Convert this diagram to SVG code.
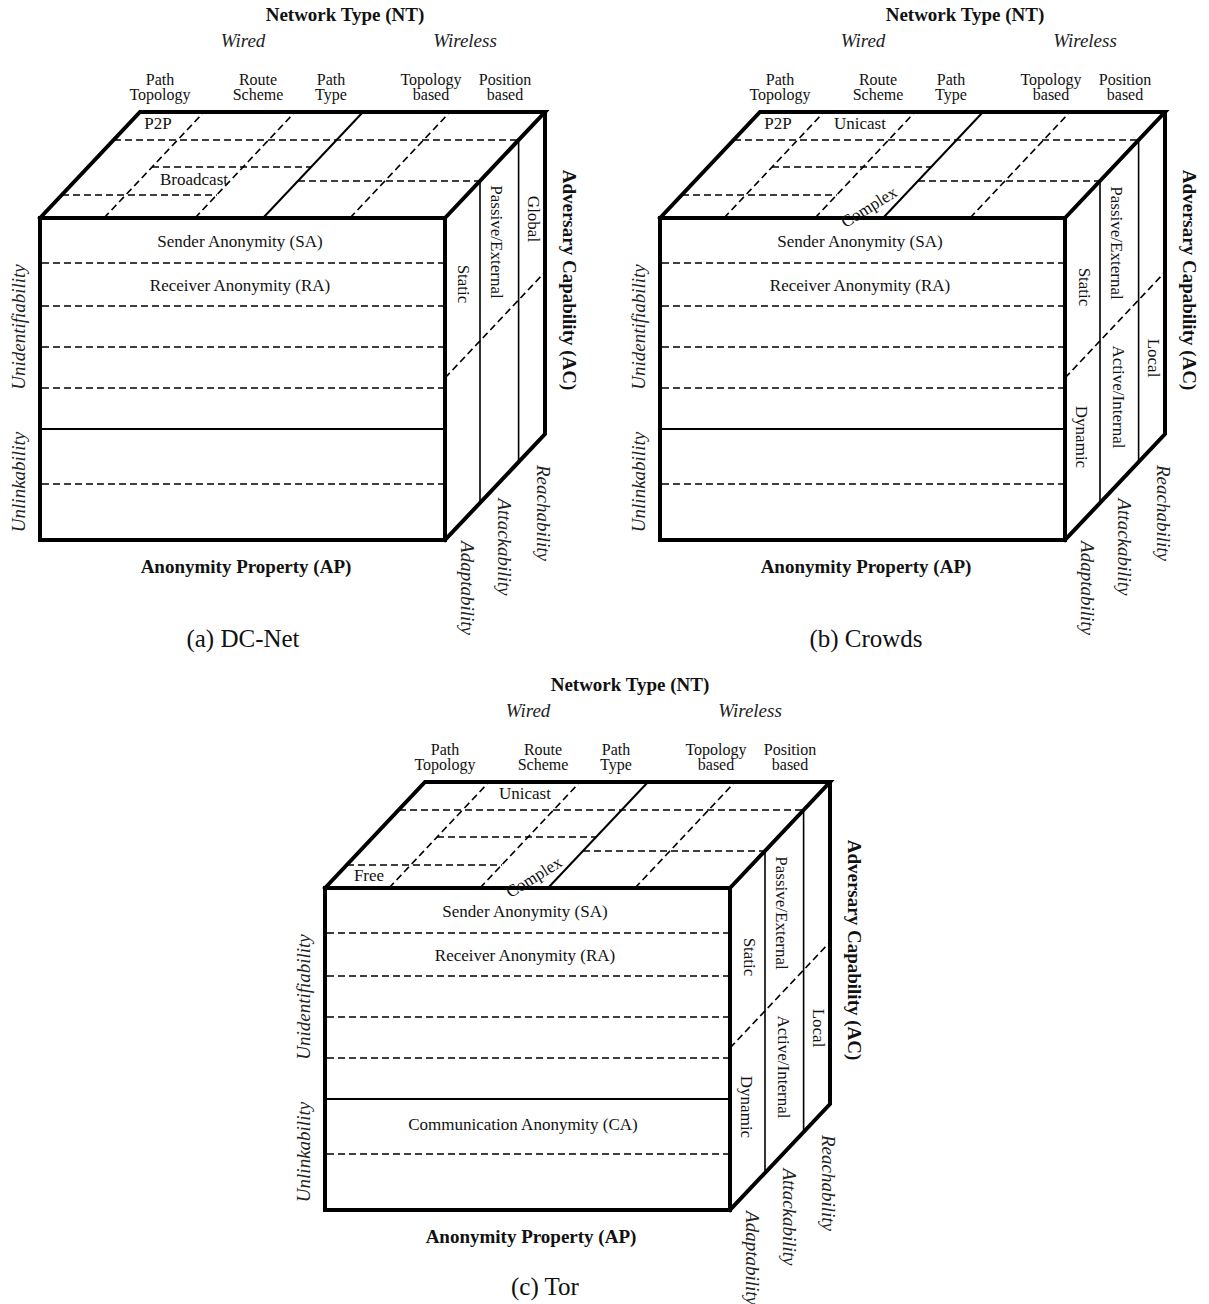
<svg xmlns="http://www.w3.org/2000/svg" width="1209" height="1304" viewBox="0 0 1209 1304">
<defs>
<style>
.thick{stroke:#000;stroke-width:4;fill:none;stroke-linejoin:miter;stroke-linecap:square}
.solid{stroke:#000;stroke-width:2;fill:none}
.sep{stroke:#000;stroke-width:1.6;fill:none}
.dash{stroke:#000;stroke-width:1.6;stroke-dasharray:7 4;fill:none}
text{font-family:"Liberation Serif","Times New Roman",serif;fill:#111}
.n{font-size:17px}
.h{font-size:16px;text-anchor:middle}
.c{text-anchor:middle}
.r{text-anchor:middle;dominant-baseline:central}
.b{font-size:19px;font-weight:bold}
.i{font-size:19px;font-style:italic;fill:#222}
.cap{font-size:25px;text-anchor:middle}
</style>
</defs>
<rect width="1209" height="1304" fill="#fff"/>

<!-- Cube (a) DC-Net -->
<g id="cube-a">
  <g class="edges">
    <rect x="40" y="218" width="405" height="322" class="thick"/>
    <path class="thick" d="M40,218 L140,112 L545,112 L445,218 M545,112 L545,434 L445,540"/>
  </g>
  <g class="front">
    <path class="dash" d="M42,263H443M42,306H443M42,347H443M42,388H443M42,484H443"/>
    <path class="solid" d="M42,429H443"/>
  </g>
  <g class="top">
    <path class="dash" d="M104,218L204,112M195,218L295,112M350,218L450,112"/>
    <path class="solid" d="M263,218L363,112"/>
    <path class="dash" d="M114,140H518M152,167H311M298,181H480M62,195H217"/>
  </g>
  <g class="right">
    <path class="sep" d="M518.6,140V462M480,181V503"/>
    <path class="dash" d="M445,378L545,272"/>
  </g>
  <text class="b c" x="345" y="21">Network Type (NT)</text>
  <text class="i c" x="243" y="47">Wired</text>
  <text class="i c" x="465" y="47">Wireless</text>
  <text class="h" x="160" y="85">Path</text><text class="h" x="160" y="100">Topology</text>
  <text class="h" x="258" y="85">Route</text><text class="h" x="258" y="100">Scheme</text>
  <text class="h" x="331" y="85">Path</text><text class="h" x="331" y="100">Type</text>
  <text class="h" x="431" y="85">Topology</text><text class="h" x="431" y="100">based</text>
  <text class="h" x="505" y="85">Position</text><text class="h" x="505" y="100">based</text>
  <text class="n c" x="158" y="129">P2P</text>
  <text class="n c" x="194" y="185">Broadcast</text>
  <text class="n c" x="240" y="247">Sender Anonymity (SA)</text>
  <text class="n c" x="240" y="291">Receiver Anonymity (RA)</text>
  <text class="n r" transform="translate(533,219) rotate(90)">Global</text>
  <text class="n r" transform="translate(496,242) rotate(90)">Passive/External</text>
  <text class="n r" transform="translate(463,284) rotate(90)">Static</text>
  <text class="b r" transform="translate(569,280) rotate(90)">Adversary Capability (AC)</text>
  <text class="i r" transform="translate(543,513) rotate(90)">Reachability</text>
  <text class="i r" transform="translate(504,547) rotate(90)">Attackability</text>
  <text class="i r" transform="translate(467,588) rotate(90)">Adaptability</text>
  <text class="i r" transform="translate(18,327) rotate(-90)">Unidentifiability</text>
  <text class="i r" transform="translate(18,482) rotate(-90)">Unlinkability</text>
  <text class="b c" x="246" y="573">Anonymity Property (AP)</text>
  <text class="cap" x="243" y="647">(a) DC-Net</text>
</g>

<!-- Cube (b) Crowds -->
<g id="cube-b" transform="translate(620,0)">
  <g class="edges">
    <rect x="40" y="218" width="405" height="322" class="thick"/>
    <path class="thick" d="M40,218 L140,112 L545,112 L445,218 M545,112 L545,434 L445,540"/>
  </g>
  <g class="front">
    <path class="dash" d="M42,263H443M42,306H443M42,347H443M42,388H443M42,484H443"/>
    <path class="solid" d="M42,429H443"/>
  </g>
  <g class="top">
    <path class="dash" d="M104,218L204,112M195,218L295,112M350,218L450,112"/>
    <path class="solid" d="M263,218L363,112"/>
    <path class="dash" d="M114,140H518M152,167H311M298,181H480M62,195H217"/>
  </g>
  <g class="right">
    <path class="sep" d="M518.6,140V462M480,181V503"/>
    <path class="dash" d="M445,378L545,272"/>
  </g>
  <text class="b c" x="345" y="21">Network Type (NT)</text>
  <text class="i c" x="243" y="47">Wired</text>
  <text class="i c" x="465" y="47">Wireless</text>
  <text class="h" x="160" y="85">Path</text><text class="h" x="160" y="100">Topology</text>
  <text class="h" x="258" y="85">Route</text><text class="h" x="258" y="100">Scheme</text>
  <text class="h" x="331" y="85">Path</text><text class="h" x="331" y="100">Type</text>
  <text class="h" x="431" y="85">Topology</text><text class="h" x="431" y="100">based</text>
  <text class="h" x="505" y="85">Position</text><text class="h" x="505" y="100">based</text>
  <text class="n c" x="158" y="129">P2P</text>
  <text class="n c" x="240" y="129">Unicast</text>
  <text class="n r" transform="translate(249,207) rotate(-32)">Complex</text>
  <text class="n c" x="240" y="247">Sender Anonymity (SA)</text>
  <text class="n c" x="240" y="291">Receiver Anonymity (RA)</text>
  <text class="n r" transform="translate(533,358) rotate(90)">Local</text>
  <text class="n r" transform="translate(496,243) rotate(90)">Passive/External</text>
  <text class="n r" transform="translate(498,397) rotate(90)">Active/Internal</text>
  <text class="n r" transform="translate(464,287) rotate(90)">Static</text>
  <text class="n r" transform="translate(461,437) rotate(90)">Dynamic</text>
  <text class="b r" transform="translate(569,280) rotate(90)">Adversary Capability (AC)</text>
  <text class="i r" transform="translate(543,513) rotate(90)">Reachability</text>
  <text class="i r" transform="translate(504,547) rotate(90)">Attackability</text>
  <text class="i r" transform="translate(467,588) rotate(90)">Adaptability</text>
  <text class="i r" transform="translate(18,327) rotate(-90)">Unidentifiability</text>
  <text class="i r" transform="translate(18,482) rotate(-90)">Unlinkability</text>
  <text class="b c" x="246" y="573">Anonymity Property (AP)</text>
  <text class="cap" x="246" y="647">(b) Crowds</text>
</g>

<!-- Cube (c) Tor -->
<g id="cube-c" transform="translate(285,670)">
  <g class="edges">
    <rect x="40" y="218" width="405" height="322" class="thick"/>
    <path class="thick" d="M40,218 L140,112 L545,112 L445,218 M545,112 L545,434 L445,540"/>
  </g>
  <g class="front">
    <path class="dash" d="M42,263H443M42,306H443M42,347H443M42,388H443M42,484H443"/>
    <path class="solid" d="M42,429H443"/>
  </g>
  <g class="top">
    <path class="dash" d="M104,218L204,112M195,218L295,112M350,218L450,112"/>
    <path class="solid" d="M263,218L363,112"/>
    <path class="dash" d="M114,140H518M152,167H311M298,181H480M62,195H217"/>
  </g>
  <g class="right">
    <path class="sep" d="M518.6,140V462M480,181V503"/>
    <path class="dash" d="M445,378L545,272"/>
  </g>
  <text class="b c" x="345" y="21">Network Type (NT)</text>
  <text class="i c" x="243" y="47">Wired</text>
  <text class="i c" x="465" y="47">Wireless</text>
  <text class="h" x="160" y="85">Path</text><text class="h" x="160" y="100">Topology</text>
  <text class="h" x="258" y="85">Route</text><text class="h" x="258" y="100">Scheme</text>
  <text class="h" x="331" y="85">Path</text><text class="h" x="331" y="100">Type</text>
  <text class="h" x="431" y="85">Topology</text><text class="h" x="431" y="100">based</text>
  <text class="h" x="505" y="85">Position</text><text class="h" x="505" y="100">based</text>
  <text class="n c" x="240" y="129">Unicast</text>
  <text class="n c" x="84" y="211">Free</text>
  <text class="n r" transform="translate(249,207) rotate(-32)">Complex</text>
  <text class="n c" x="240" y="247">Sender Anonymity (SA)</text>
  <text class="n c" x="240" y="291">Receiver Anonymity (RA)</text>
  <text class="n c" x="238" y="460">Communication Anonymity (CA)</text>
  <text class="n r" transform="translate(533,358) rotate(90)">Local</text>
  <text class="n r" transform="translate(496,243) rotate(90)">Passive/External</text>
  <text class="n r" transform="translate(498,397) rotate(90)">Active/Internal</text>
  <text class="n r" transform="translate(464,287) rotate(90)">Static</text>
  <text class="n r" transform="translate(461,437) rotate(90)">Dynamic</text>
  <text class="b r" transform="translate(569,280) rotate(90)">Adversary Capability (AC)</text>
  <text class="i r" transform="translate(543,513) rotate(90)">Reachability</text>
  <text class="i r" transform="translate(504,547) rotate(90)">Attackability</text>
  <text class="i r" transform="translate(467,588) rotate(90)">Adaptability</text>
  <text class="i r" transform="translate(18,327) rotate(-90)">Unidentifiability</text>
  <text class="i r" transform="translate(18,482) rotate(-90)">Unlinkability</text>
  <text class="b c" x="246" y="573">Anonymity Property (AP)</text>
  <text class="cap" x="260" y="625">(c) Tor</text>
</g>
</svg>
